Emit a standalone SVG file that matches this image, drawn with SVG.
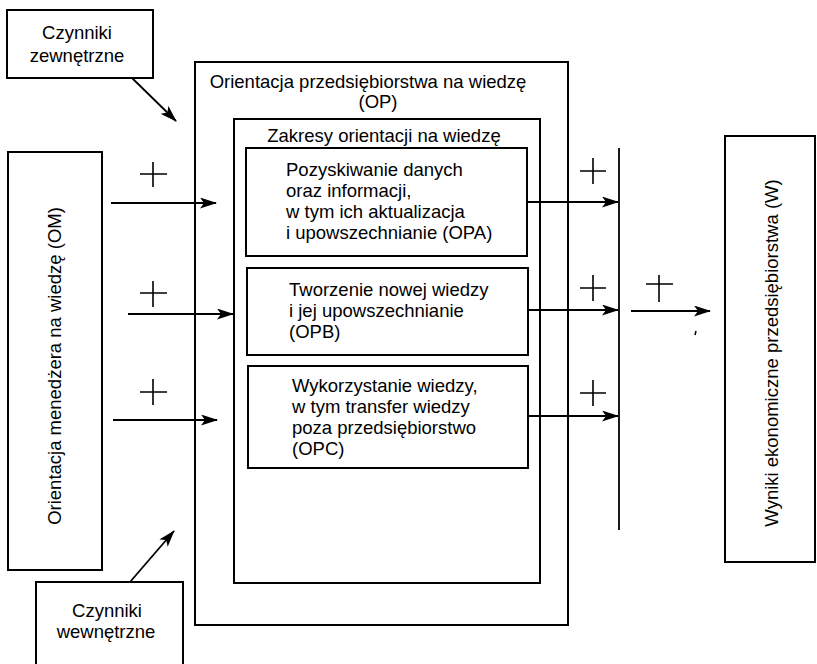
<svg xmlns="http://www.w3.org/2000/svg" width="817" height="664" viewBox="0 0 817 664">
<style>
.box{fill:none;stroke:#000;stroke-width:2}
.ln{fill:none;stroke:#000;stroke-width:1.8}
.pl{fill:none;stroke:#000;stroke-width:1.6}
text{font-family:"Liberation Sans",Arial,sans-serif;font-size:18.5px;fill:#000}
.c{text-anchor:middle}
</style>
<defs>
<marker id="ah" markerWidth="17" markerHeight="11" refX="16" refY="5.5" orient="auto" markerUnits="userSpaceOnUse">
<path d="M0,0 L17,5.5 L0,11 L4,5.5 z" fill="#000"/>
</marker>
</defs>
<rect width="817" height="664" fill="#fff"/>
<g id="czynniki-zewnetrzne">
<rect class="box" x="7" y="10" width="146" height="68"/>
<text class="c" x="77" y="39">Czynniki</text>
<text class="c" x="77" y="62">zewnętrzne</text>
</g>
<g id="om">
<rect class="box" x="8" y="152" width="94" height="418"/>
<text class="c" transform="translate(61,366) rotate(-90)">Orientacja menedżera na wiedzę (OM)</text>
</g>
<g id="czynniki-wewnetrzne">
<path class="box" d="M36,664 V582 H183 V664"/>
<text class="c" x="107" y="617">Czynniki</text>
<text class="c" x="106" y="638">wewnętrzne</text>
</g>
<g id="op">
<rect class="box" x="195" y="62" width="373" height="563"/>
<text class="c" x="368" y="88">Orientacja przedsiębiorstwa na wiedzę</text>
<text class="c" x="378" y="108">(OP)</text>
</g>
<g id="zakresy">
<rect class="box" x="234" y="119" width="306" height="464"/>
<text class="c" x="384" y="142">Zakresy orientacji na wiedzę</text>
</g>
<g id="opa">
<rect class="box" x="246" y="148" width="281" height="108"/>
<text x="286" y="176">Pozyskiwanie danych</text>
<text x="286" y="197">oraz informacji,</text>
<text x="286" y="218">w tym ich aktualizacja</text>
<text x="286" y="239">i upowszechnianie (OPA)</text>
</g>
<g id="opb">
<rect class="box" x="247" y="268" width="281" height="87"/>
<text x="289" y="296">Tworzenie nowej wiedzy</text>
<text x="289" y="317">i jej upowszechnianie</text>
<text x="289" y="338">(OPB)</text>
</g>
<g id="opc">
<rect class="box" x="248" y="366" width="280" height="102"/>
<text x="292" y="392">Wykorzystanie wiedzy,</text>
<text x="292" y="413">w tym transfer wiedzy</text>
<text x="292" y="434">poza przedsiębiorstwo</text>
<text x="292" y="455">(OPC)</text>
</g>
<g id="wyniki">
<rect class="box" x="725" y="136" width="90" height="426"/>
<text class="c" transform="translate(778,353) rotate(-90)">Wyniki ekonomiczne przedsiębiorstwa (W)</text>
</g>
<g id="connectors">
<line class="ln" x1="132" y1="78" x2="176" y2="121" marker-end="url(#ah)"/>
<line class="ln" x1="130" y1="582" x2="174" y2="531" marker-end="url(#ah)"/>
<line class="ln" x1="111" y1="203" x2="216" y2="203" marker-end="url(#ah)"/>
<line class="ln" x1="128" y1="314" x2="233" y2="314" marker-end="url(#ah)"/>
<line class="ln" x1="113" y1="420" x2="217" y2="420" marker-end="url(#ah)"/>
<line class="ln" x1="527" y1="202" x2="618" y2="202" marker-end="url(#ah)"/>
<line class="ln" x1="528" y1="310" x2="618" y2="310" marker-end="url(#ah)"/>
<line class="ln" x1="528" y1="416" x2="618" y2="416" marker-end="url(#ah)"/>
<line class="ln" x1="619" y1="148" x2="619" y2="530"/>
<line class="ln" x1="631" y1="311" x2="710" y2="311" marker-end="url(#ah)"/>
<path class="pl" d="M140,174 H167 M153,162 V187"/>
<path class="pl" d="M140,293 H167 M153,281 V307"/>
<path class="pl" d="M140,392 H167 M153,379 V405"/>
<path class="pl" d="M580,171 H606 M593,158 V184"/>
<path class="pl" d="M580,288 H606 M593,275 V301"/>
<path class="pl" d="M580,393 H606 M593,380 V406"/>
<path class="pl" d="M646,284 H673 M659,275 V302"/>
<path class="pl" d="M696,331 L695,335"/>
</g>
</svg>
